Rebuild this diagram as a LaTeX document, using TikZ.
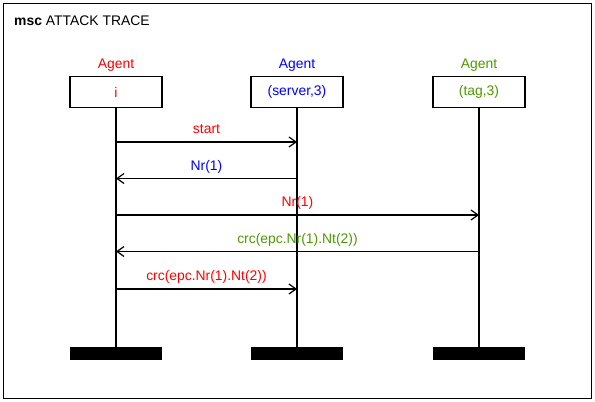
\documentclass[tikz,border=0pt]{standalone}
\usepackage{fontspec}
\setmainfont{Liberation Sans}
\usetikzlibrary{positioning,arrows.meta}
\definecolor{agentred}{HTML}{FF0000}
\definecolor{agentblue}{HTML}{0000FF}
\definecolor{agentgreen}{HTML}{4C9900}

\begin{document}
\begin{tikzpicture}[x=1pt,y=-1pt,font=\fontsize{13.9}{16}\selectfont,
  agentbox/.style={draw,line width=1.2pt,minimum width=92pt,minimum height=31pt,inner sep=0pt},
  endbar/.style={fill=black,minimum width=92pt,minimum height=13pt,inner sep=0pt},
  lifeline/.style={line width=1.2pt},
  msg/.style={line width=1.2pt,-{Straight Barb[length=7pt,width=10pt,line width=1.2pt]}},
  msglabel/.style={anchor=base,inner sep=0pt,yshift=8.5pt}]
\useasboundingbox (0,0) rectangle (595,402);
% Frame and title of the chart
\draw[line width=1.2pt] (3.5,3.5) rectangle (591.5,398.5);
\node[anchor=base west,inner sep=0pt] (title) at (14,25) {\textbf{msc} ATTACK TRACE};
% Instances: head box, role name above, end bar below
\node[agentbox,text=agentred] (i) at (116,92) {i};
\node[agentbox,text=agentblue] (srv) at (297,92) {(server,3)};
\node[agentbox,text=agentgreen] (tag) at (479,92) {(tag,3)};
\foreach \inst/\tone in {i/agentred,srv/agentblue,tag/agentgreen}{
  \node[anchor=base,inner sep=0pt,text=\tone] (\inst name) at ([yshift=7pt]\inst.north) {Agent};
  \node[endbar] (\inst end) at (\inst |- 0,353.5) {};
  \draw[lifeline] (\inst) -- (\inst end);
}
% Messages, top to bottom
\foreach \n/\y/\from/\to/\tone/\msgtext in {1/142/i/srv/agentred/start,
    2/178.5/srv/i/agentblue/Nr(1),
    3/215/i/tag/agentred/Nr(1),
    4/251.5/tag/i/agentgreen/crc(epc.Nr(1).Nt(2)),
    5/289/i/srv/agentred/crc(epc.Nr(1).Nt(2))}{
  \coordinate (m\n) at (0,\y);
  \draw[msg] (\from |- m\n) -- (\to |- m\n) node[midway,msglabel,text=\tone] (lbl\n) {\msgtext};
}
\end{tikzpicture}
\end{document}
